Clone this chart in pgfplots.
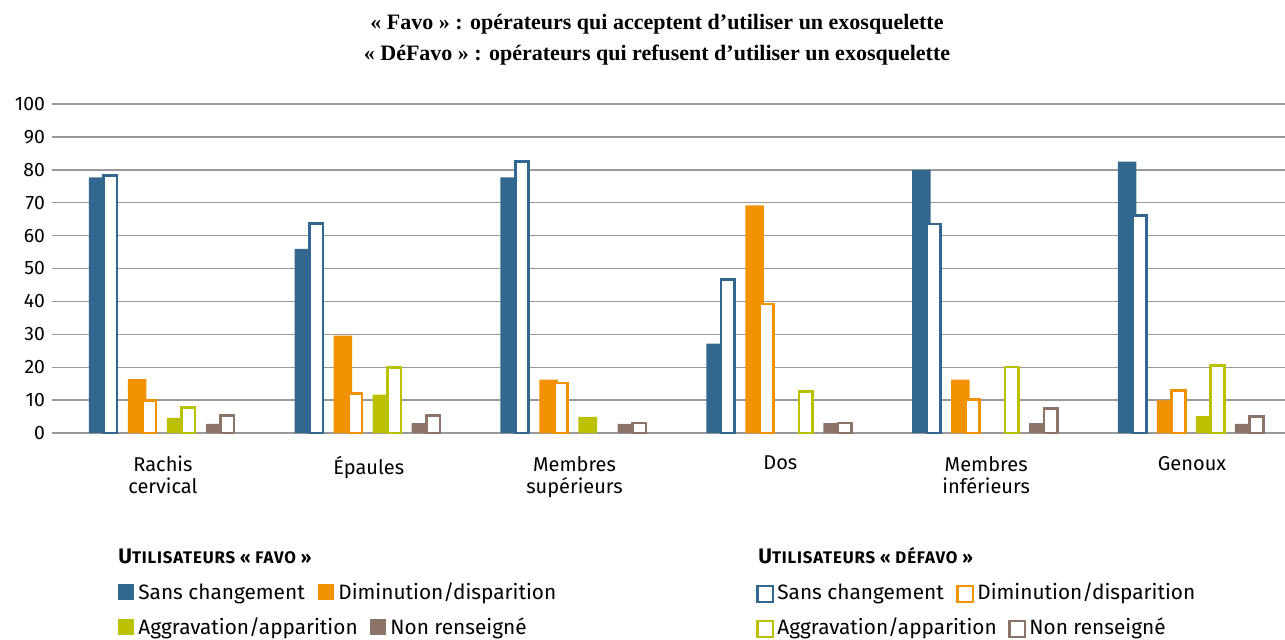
\documentclass[border=0pt]{standalone}
\usepackage{fontspec}
\setmainfont{Fira Sans}
\newfontfamily\titlefont{Liberation Serif}
\usepackage{pgfplots}
\pgfplotsset{compat=1.18}
\definecolor{cblue}{RGB}{50,104,143}
\definecolor{corange}{RGB}{243,146,0}
\definecolor{cgreen}{RGB}{187,193,0}
\definecolor{cbrown}{RGB}{141,116,104}
\newcommand{\fsq}[1]{\textcolor{#1}{\rule[-0.3pt]{8pt}{8pt}}}
\newcommand{\osq}[1]{\raisebox{-0.8pt}{\setlength\fboxrule{1.2pt}\setlength\fboxsep{0pt}\fcolorbox{#1}{white}{\rule{0pt}{6.6pt}\rule{6.6pt}{0pt}}}}
\begin{document}
\begin{tikzpicture}
\useasboundingbox (0,0) rectangle (642.5pt,-319.5pt);
\node[anchor=base, font=\titlefont\bfseries\fontsize{11}{12}\selectfont] at (328.5pt,-14.5pt) {«~Favo~» : opérateurs qui acceptent d’utiliser un exosquelette};
\node[anchor=base, font=\titlefont\bfseries\fontsize{11}{12}\selectfont] at (328.5pt,-30pt) {«~DéFavo~» : opérateurs qui refusent d’utiliser un exosquelette};
\begin{axis}[
  at={(26pt,-216.5pt)}, anchor=south west,
  scale only axis, width=616.5pt, height=164.5pt,
  xmin=-0.539, xmax=5.452, ymin=0, ymax=100,
  clip=false,
  axis line style={draw=none}, major tick length=0pt,
  ytick={0,10,...,100}, ymajorgrids,
  grid style={gray!80, line width=0.7pt},
  xtick={0,...,5},
  xticklabels={{Rachis\\cervical},{Épaules},{Membres\\supérieurs},{Dos},{Membres\\inférieurs},{Genoux}},
  xticklabel style={align=center, font=\fontsize{10}{11}\selectfont, yshift=-8pt},
  yticklabel style={font=\fontsize{9.7}{11}\selectfont},
  /pgf/number format/assume math mode=true,
]
% filled (Favo)
\addplot[ybar, bar width=9.25pt, bar shift=-32.4pt, fill=cblue, draw=none] coordinates {(0,77.7) (1,56) (2,77.7) (3,27.2) (4,80) (5,82.5)};
\addplot[ybar, bar width=9.25pt, bar shift=-12.9pt, fill=corange, draw=none] coordinates {(0,16.4) (1,29.6) (2,16.2) (3,69.2) (4,16.2) (5,9.9)};
\addplot[ybar, bar width=9.25pt, bar shift=6.6pt, fill=cgreen, draw=none] coordinates {(0,4.6) (1,11.7) (2,4.9) (5,5.1)};
\addplot[ybar, bar width=9.25pt, bar shift=26.1pt, fill=cbrown, draw=none] coordinates {(0,2.8) (1,3.0) (2,2.8) (3,3.0) (4,3.0) (5,2.8)};
% open (DeFavo)
\addplot[ybar, bar width=6.75pt, bar shift=-26.25pt, fill=white, draw=cblue, line width=1.3pt] coordinates {(0,78.3) (1,63.6) (2,82.6) (3,46.6) (4,63.5) (5,66.2)};
\addplot[ybar, bar width=6.75pt, bar shift=-6.75pt, fill=white, draw=corange, line width=1.3pt] coordinates {(0,9.9) (1,12.1) (2,15.2) (3,39.2) (4,10.1) (5,13)};
\addplot[ybar, bar width=6.75pt, bar shift=12.75pt, fill=white, draw=cgreen, line width=1.3pt] coordinates {(0,7.8) (1,20) (3,12.6) (4,20.1) (5,20.6)};
\addplot[ybar, bar width=6.75pt, bar shift=32.25pt, fill=white, draw=cbrown, line width=1.3pt] coordinates {(0,5.4) (1,5.4) (2,3.0) (3,3.0) (4,7.5) (5,5.1)};
\end{axis}
\begin{scope}[every node/.style={anchor=base west, inner sep=0pt, font=\fontsize{10.4}{12}\selectfont}]
\node[font=\bfseries\fontsize{10.5}{12}\selectfont] at (59pt,-281.5pt) {U{\addfontfeature{LetterSpace=5}\fontsize{8.4}{9}\selectfont TILISATEURS «~FAVO~»}};
\node at (59pt,-299.5pt) {\fsq{cblue}\hspace{2pt}Sans changement};
\node at (159pt,-299.5pt) {\fsq{corange}\hspace{2pt}Diminution/disparition};
\node at (59pt,-317pt) {\fsq{cgreen}\hspace{2pt}Aggravation/apparition};
\node at (185pt,-317pt) {\fsq{cbrown}\hspace{2pt}Non renseigné};
\node[font=\bfseries\fontsize{10.5}{12}\selectfont] at (379pt,-281.5pt) {U{\addfontfeature{LetterSpace=5}\fontsize{8.4}{9}\selectfont TILISATEURS «~DÉFAVO~»}};
\node at (378pt,-299.5pt) {\osq{cblue}\hspace{1.5pt}Sans changement};
\node at (478pt,-299.5pt) {\osq{corange}\hspace{1.5pt}Diminution/disparition};
\node at (378pt,-317pt) {\osq{cgreen}\hspace{1.5pt}Aggravation/apparition};
\node at (504pt,-317pt) {\osq{cbrown}\hspace{1.5pt}Non renseigné};
\end{scope}
\end{tikzpicture}
\end{document}
